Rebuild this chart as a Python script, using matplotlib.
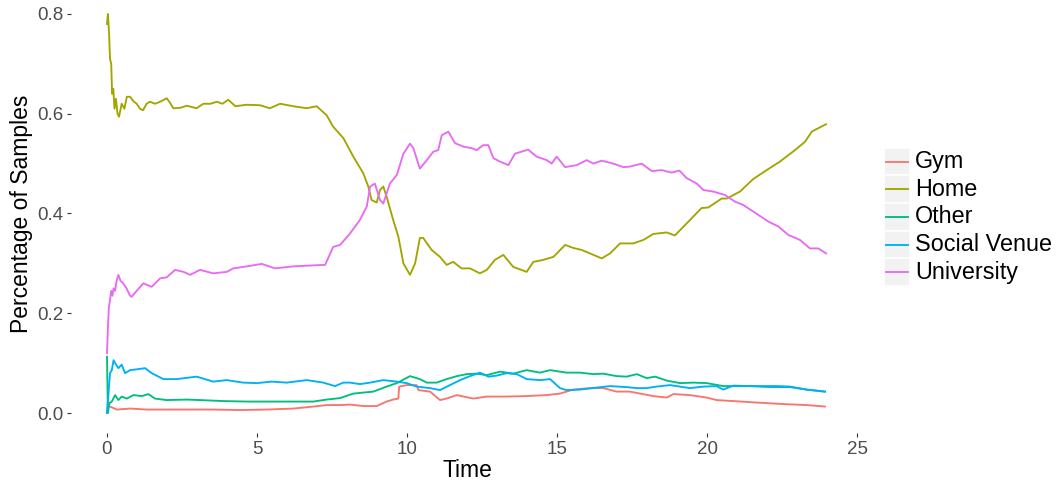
import matplotlib
matplotlib.use("Agg")
import matplotlib.pyplot as plt
from matplotlib.patches import Rectangle
from matplotlib.lines import Line2D

plt.rcParams['font.family'] = ['Liberation Sans', 'DejaVu Sans']

# ---------------- data ----------------
categories = ["Gym", "Home", "Other", "Social Venue", "University"]
colors = ["#F8766D", "#A3A500", "#00BF7D", "#00B0F6", "#E76BF3"]

home_t = [0.00, 0.03, 0.07, 0.10, 0.14, 0.17, 0.21, 0.25, 0.30, 0.35, 0.40, 0.49, 0.58, 0.66,
          0.77, 0.88, 0.99, 1.10, 1.20, 1.32, 1.43, 1.60, 1.77, 1.99, 2.10, 2.21, 2.45, 2.66,
          2.99, 3.21, 3.45, 3.66, 3.85, 4.04, 4.28, 4.66, 5.10, 5.43, 5.77, 6.21, 6.66, 6.99,
          7.10, 7.32, 7.54, 7.88, 8.21, 8.54, 8.71, 8.82, 8.99, 9.10, 9.21, 9.32, 9.54, 9.71,
          9.88, 10.10, 10.27, 10.43, 10.54, 10.82, 11.10, 11.32, 11.54, 11.82, 12.10, 12.43,
          12.66, 12.93, 13.21, 13.54, 13.99, 14.21, 14.54, 14.88, 15.27, 15.54, 15.82, 16.10,
          16.49, 16.77, 17.10, 17.54, 17.88, 18.21, 18.66, 18.93, 19.32, 19.82, 20.04, 20.49,
          20.66, 21.10, 21.54, 22.04, 22.43, 22.93, 23.27, 23.49, 23.77, 23.97]
home_v = [0.78, 0.80, 0.76, 0.71, 0.70, 0.64, 0.65, 0.61, 0.63, 0.60, 0.594, 0.62, 0.61, 0.634,
          0.634, 0.625, 0.62, 0.61, 0.607, 0.62, 0.624, 0.62, 0.624, 0.631, 0.622, 0.611, 0.612,
          0.616, 0.611, 0.62, 0.62, 0.624, 0.62, 0.628, 0.615, 0.618, 0.617, 0.611, 0.62, 0.615,
          0.611, 0.615, 0.609, 0.597, 0.574, 0.551, 0.514, 0.481, 0.454, 0.427, 0.422, 0.447,
          0.454, 0.434, 0.387, 0.354, 0.30, 0.277, 0.30, 0.351, 0.351, 0.327, 0.313, 0.297,
          0.303, 0.29, 0.29, 0.28, 0.287, 0.307, 0.317, 0.293, 0.283, 0.303, 0.307, 0.313,
          0.337, 0.331, 0.327, 0.32, 0.31, 0.32, 0.34, 0.34, 0.347, 0.359, 0.362, 0.356, 0.38,
          0.411, 0.412, 0.43, 0.43, 0.444, 0.469, 0.489, 0.504, 0.527, 0.544, 0.564, 0.573, 0.579]

univ_t = [0.00, 0.03, 0.06, 0.10, 0.14, 0.18, 0.22, 0.27, 0.32, 0.38, 0.45, 0.54, 0.65, 0.77,
          0.82, 0.99, 1.21, 1.49, 1.77, 1.99, 2.27, 2.55, 2.77, 3.10, 3.54, 3.99, 4.21, 4.66,
          5.16, 5.60, 6.21, 6.88, 7.27, 7.54, 7.77, 8.10, 8.43, 8.66, 8.77, 8.93, 9.10, 9.21,
          9.43, 9.66, 9.88, 10.10, 10.21, 10.43, 10.66, 10.88, 11.04, 11.16, 11.38, 11.60,
          11.88, 12.16, 12.32, 12.54, 12.71, 12.88, 13.10, 13.38, 13.60, 14.04, 14.32, 14.66,
          14.82, 14.99, 15.27, 15.66, 15.99, 16.21, 16.49, 16.88, 17.21, 17.43, 17.82, 18.16,
          18.49, 18.82, 19.08, 19.32, 19.66, 19.88, 20.21, 20.60, 20.93, 21.21, 21.54, 22.04,
          22.38, 22.71, 23.10, 23.43, 23.71, 23.97]
univ_v = [0.12, 0.17, 0.21, 0.227, 0.245, 0.235, 0.25, 0.245, 0.265, 0.277, 0.265, 0.26, 0.25,
          0.235, 0.233, 0.245, 0.26, 0.253, 0.27, 0.272, 0.287, 0.283, 0.277, 0.287, 0.28, 0.283,
          0.29, 0.294, 0.299, 0.29, 0.294, 0.296, 0.297, 0.333, 0.337, 0.36, 0.387, 0.414, 0.454,
          0.46, 0.427, 0.42, 0.46, 0.477, 0.52, 0.54, 0.531, 0.49, 0.507, 0.524, 0.527, 0.557,
          0.564, 0.541, 0.534, 0.531, 0.527, 0.537, 0.537, 0.511, 0.504, 0.497, 0.52, 0.528,
          0.514, 0.507, 0.50, 0.514, 0.493, 0.497, 0.507, 0.50, 0.506, 0.50, 0.493, 0.494, 0.50,
          0.485, 0.487, 0.482, 0.486, 0.471, 0.46, 0.447, 0.444, 0.437, 0.424, 0.417, 0.404,
          0.384, 0.374, 0.357, 0.347, 0.33, 0.33, 0.32]

other_t = [0.00, 0.03, 0.08, 0.16, 0.27, 0.38, 0.49, 0.66, 0.88, 1.16, 1.38, 1.60, 1.99, 2.66,
           3.10, 3.88, 4.66, 5.54, 6.43, 6.88, 7.32, 7.77, 8.21, 8.54, 8.88, 9.32, 9.66, 10.10,
           10.43, 10.66, 10.99, 11.32, 11.66, 11.99, 12.32, 12.66, 13.10, 13.54, 13.99, 14.43,
           14.77, 15.32, 15.77, 16.21, 16.54, 16.99, 17.32, 17.66, 17.99, 18.27, 18.66, 19.10,
           19.54, 19.99, 20.54, 21.10, 21.66, 22.32, 22.77, 23.32, 23.93]
other_v = [0.113, 0.0, 0.02, 0.023, 0.036, 0.026, 0.033, 0.029, 0.036, 0.034, 0.038, 0.029,
           0.026, 0.027, 0.026, 0.024, 0.023, 0.023, 0.023, 0.023, 0.027, 0.030, 0.039, 0.041,
           0.043, 0.053, 0.06, 0.074, 0.068, 0.061, 0.061, 0.068, 0.074, 0.078, 0.079, 0.076,
           0.083, 0.079, 0.086, 0.081, 0.086, 0.081, 0.081, 0.078, 0.079, 0.074, 0.073, 0.078,
           0.07, 0.073, 0.065, 0.06, 0.061, 0.06, 0.054, 0.054, 0.054, 0.054, 0.053, 0.047, 0.043]

social_t = [0.00, 0.05, 0.10, 0.16, 0.22, 0.27, 0.38, 0.49, 0.60, 0.77, 1.04, 1.27, 1.49, 1.88,
            2.32, 2.99, 3.54, 3.99, 4.54, 4.99, 5.49, 5.99, 6.66, 7.21, 7.60, 7.88, 8.10, 8.43,
            8.77, 9.21, 9.66, 9.99, 10.32, 10.77, 11.10, 11.43, 11.77, 12.10, 12.43, 12.71,
            12.99, 13.32, 13.66, 13.99, 14.43, 14.77, 15.10, 15.32, 15.77, 16.32, 16.77, 17.32,
            17.66, 17.99, 18.32, 18.77, 19.10, 19.43, 19.88, 20.32, 20.54, 20.88, 21.43, 22.10,
            22.77, 23.32, 23.93]
social_v = [0.0, 0.04, 0.08, 0.086, 0.106, 0.10, 0.09, 0.097, 0.08, 0.086, 0.088, 0.09, 0.08,
            0.068, 0.068, 0.073, 0.063, 0.066, 0.061, 0.06, 0.063, 0.061, 0.066, 0.061, 0.054,
            0.061, 0.061, 0.058, 0.061, 0.066, 0.063, 0.06, 0.053, 0.05, 0.046, 0.056, 0.066,
            0.074, 0.081, 0.073, 0.075, 0.08, 0.078, 0.068, 0.066, 0.068, 0.05, 0.046, 0.047,
            0.051, 0.054, 0.052, 0.05, 0.05, 0.053, 0.056, 0.053, 0.05, 0.053, 0.054, 0.047,
            0.055, 0.054, 0.052, 0.052, 0.047, 0.043]

gym_t = [0.00, 0.03, 0.10, 0.33, 0.77, 1.32, 2.43, 3.54, 4.43, 5.32, 6.21, 6.88, 7.32, 7.77,
         8.10, 8.54, 8.99, 9.32, 9.54, 9.71, 9.74, 9.99, 10.32, 10.38, 10.77, 11.10, 11.32,
         11.66, 12.21, 12.66, 13.32, 13.99, 14.66, 15.10, 15.54, 16.10, 16.54, 16.99, 17.43,
         17.77, 18.21, 18.66, 18.88, 19.43, 19.99, 20.32, 20.88, 21.66, 22.54, 23.32, 23.93]
gym_v = [0.0, 0.015, 0.013, 0.007, 0.009, 0.007, 0.007, 0.007, 0.006, 0.007, 0.009, 0.013,
         0.016, 0.016, 0.017, 0.014, 0.014, 0.023, 0.027, 0.029, 0.053, 0.056, 0.056, 0.046,
         0.043, 0.026, 0.029, 0.036, 0.029, 0.033, 0.033, 0.034, 0.036, 0.039, 0.047, 0.05,
         0.05, 0.043, 0.043, 0.039, 0.034, 0.031, 0.038, 0.036, 0.031, 0.026, 0.024, 0.021,
         0.018, 0.016, 0.013]

x_ticks = [0, 5, 10, 15, 20, 25]
y_ticks = [0.0, 0.2, 0.4, 0.6, 0.8]
y_tick_labels = ["0.0", "0.2", "0.4", "0.6", "0.8"]

series = [(gym_t, gym_v), (home_t, home_v), (other_t, other_v),
          (social_t, social_v), (univ_t, univ_v)]

# ---------------- figure ----------------
W, H = 1063, 488
fig = plt.figure(figsize=(W / 100, H / 100), dpi=100)
fig.patch.set_facecolor("white")

p_left, p_right, p_top, p_bottom = 71, 863, -6, 433
ax = fig.add_axes([p_left / W, (H - p_bottom) / H,
                   (p_right - p_left) / W, (p_bottom - p_top) / H])

for (t, v), c, name in zip(series, colors, categories):
    ax.plot(t, v, color=c, lw=1.35, label=name, solid_joinstyle="round")

ax.set_xlim(-1.2, 25.2)
ax.set_ylim(-0.04, 0.84)
ax.set_xticks(x_ticks)
ax.set_yticks(y_ticks)
ax.set_yticklabels(y_tick_labels)
for s in ax.spines.values():
    s.set_visible(False)
ax.tick_params(axis="both", length=3, width=0.8, color="#333333",
               labelcolor="#4D4D4D", labelsize=13.5, pad=2.5)
ax.set_xlabel("Time", fontsize=16.5, color="black", labelpad=1)
ax.set_ylabel("Percentage of Samples", fontsize=16.5, color="black", labelpad=3)

# ---------------- legend (ggplot style keys) ----------------
def fx(px):
    return px / W

def fy(py):
    return 1 - py / H

key_x0, key_w, key_h = 884, 26, 27.7
row0 = 161.5
for i, (name, c) in enumerate(zip(categories, colors)):
    yc = row0 + i * key_h
    fig.add_artist(Rectangle((fx(key_x0), fy(yc + key_h / 2)), key_w / W, key_h / H,
                             transform=fig.transFigure, facecolor="#F2F2F2",
                             edgecolor="white", lw=1.2))
    fig.add_artist(Line2D([fx(key_x0 + 2), fx(key_x0 + key_w - 2)], [fy(yc), fy(yc)],
                          transform=fig.transFigure, color=c, lw=1.35))
    fig.text(fx(915), fy(yc), name, fontsize=16.8, color="black",
             va="center", ha="left")

fig.savefig("out.png", dpi=100)
